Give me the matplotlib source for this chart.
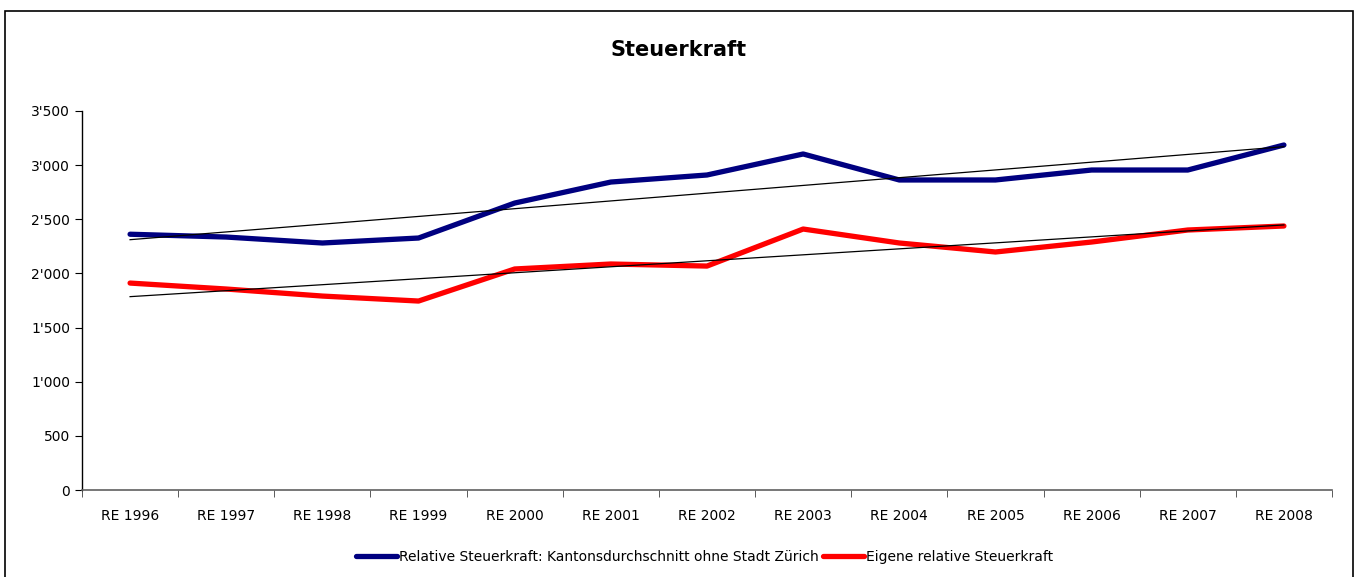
import numpy as np
import matplotlib
matplotlib.use("Agg")
import matplotlib.pyplot as plt
from matplotlib.patches import Rectangle
from matplotlib.ticker import FuncFormatter

categories = ["RE 1996", "RE 1997", "RE 1998", "RE 1999", "RE 2000", "RE 2001", "RE 2002",
              "RE 2003", "RE 2004", "RE 2005", "RE 2006", "RE 2007", "RE 2008"]
kanton = [2362, 2336, 2281, 2327, 2650, 2844, 2909, 3103, 2863, 2863, 2955, 2955, 3186]
eigene = [1911, 1856, 1791, 1745, 2041, 2087, 2068, 2410, 2281, 2198, 2290, 2401, 2438]
yticks = [0, 500, 1000, 1500, 2000, 2500, 3000, 3500]

plt.rcParams['font.family'] = ['DejaVu Sans']

W, H = 1355, 577
fig = plt.figure(figsize=(W / 100, H / 100), dpi=100)
fig.patch.set_facecolor("white")

# outer frame
fig.add_artist(Rectangle((5 / W, -0.01), (1353 - 5) / W, 1 - 11 / H + 0.01,
                         transform=fig.transFigure, fill=False, edgecolor="black", lw=1.2))

ax = fig.add_axes([82 / W, 1 - 490 / H, (1332 - 82) / W, (490 - 111) / H])
x = np.arange(len(categories))

blue = "#000080"
red = "#FF0000"
ax.plot(x, kanton, color=blue, lw=3.8, solid_capstyle="round", solid_joinstyle="round",
        label="Relative Steuerkraft: Kantonsdurchschnitt ohne Stadt Zürich", zorder=3)
ax.plot(x, eigene, color=red, lw=3.8, solid_capstyle="round", solid_joinstyle="round",
        label="Eigene relative Steuerkraft", zorder=3)

for series in (kanton, eigene):
    p = np.polyfit(x, series, 1)
    ax.plot(x, np.polyval(p, x), color="black", lw=0.9, zorder=4)

ax.set_xlim(-0.5, len(categories) - 0.5)
ax.set_ylim(0, 3500)
ax.set_yticks(yticks)
ax.yaxis.set_major_formatter(FuncFormatter(lambda v, _: f"{int(v):,}".replace(",", "'")))
ax.set_xticks(x)
ax.set_xticklabels(categories)
ax.set_xticks(np.arange(len(categories) + 1) - 0.5, minor=True)
ax.tick_params(axis="x", which="major", length=0, pad=14, labelsize=10)
ax.tick_params(axis="x", which="minor", length=5, direction="out", color="#404040")
ax.tick_params(axis="y", length=5, direction="out", labelsize=10, pad=3.5)

for s in ("top", "right"):
    ax.spines[s].set_visible(False)
ax.spines["bottom"].set_color("#606060")
ax.spines["bottom"].set_linewidth(1.2)
ax.spines["left"].set_linewidth(1.0)

fig.text(679 / W, 1 - 50 / H, "Steuerkraft", ha="center", va="center",
         fontsize=15, fontweight="bold")

leg = fig.legend(loc="center", bbox_to_anchor=(705 / W, 1 - 557 / H), ncol=2,
                 frameon=False, fontsize=10, handlelength=2.9, handletextpad=0.2,
                 columnspacing=0.3)

fig.savefig("out.png", dpi=100)
